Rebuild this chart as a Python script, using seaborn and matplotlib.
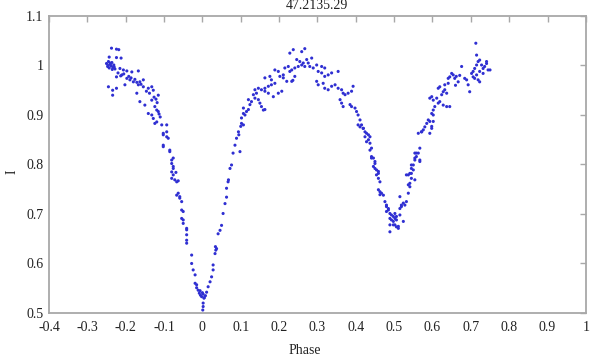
import matplotlib
matplotlib.use("Agg")
import matplotlib.pyplot as plt
import seaborn as sns
import pandas as pd

# light curve of 47.2135.29
# first maximum (descending)
phase_max1 = [-0.237, -0.224, -0.218, -0.243, -0.224, -0.212,
              -0.250, -0.247, -0.245, -0.243, -0.240, -0.238, -0.236, -0.233, -0.231, -0.228,
              -0.246, -0.241, -0.235, -0.230,
              -0.215, -0.206, -0.197, -0.184, -0.167,
              -0.245, -0.234, -0.224, -0.234, -0.202,
              -0.224, -0.210, -0.197, -0.189, -0.180, -0.167, -0.154, -0.141,
              -0.220, -0.213, -0.205, -0.192, -0.186, -0.176, -0.171, -0.160,
              -0.163, -0.154, -0.132, -0.128, -0.115, -0.171, -0.163, -0.150, -0.132,
              -0.146, -0.138, -0.126, -0.121, -0.118,
              -0.124, -0.119, -0.115, -0.132, -0.124, -0.106, -0.093,
              -0.141, -0.128, -0.119, -0.110, -0.113]
flux_max1 = [1.035, 1.033, 1.032, 1.017, 1.016, 1.015,
             1.004, 0.998, 1.008, 0.995, 1.002, 0.999, 1.006, 0.996, 1.001, 0.993,
             1.000, 1.005, 0.992, 0.997,
             0.994, 0.991, 0.989, 0.987, 0.989,
             0.957, 0.950, 0.954, 0.940, 0.961,
             0.977, 0.981, 0.974, 0.971, 0.967, 0.961, 0.957, 0.954,
             0.985, 0.979, 0.983, 0.978, 0.975, 0.972, 0.966, 0.962,
             0.967, 0.971, 0.957, 0.950, 0.940, 0.944, 0.927, 0.920, 0.930,
             0.948, 0.944, 0.936, 0.932, 0.925,
             0.917, 0.910, 0.907, 0.900, 0.883, 0.880, 0.880,
             0.903, 0.893, 0.886, 0.896, 0.902]

# primary eclipse
phase_prim = [-0.102, -0.093, -0.102, -0.089, -0.093, -0.102, -0.102, -0.085, -0.085, -0.080,
              -0.076, -0.080, -0.076, -0.076, -0.069, -0.080, -0.076, -0.080, -0.072, -0.067, -0.063,
              -0.067, -0.063, -0.059, -0.059, -0.054, -0.054, -0.050, -0.054, -0.050, -0.050,
              -0.041, -0.041, -0.041, -0.041, -0.041,
              -0.028, -0.028, -0.024, -0.019, -0.019, -0.015,
              -0.015, -0.011, -0.008, -0.005, -0.002, 0.002, 0.005, 0.008, 0.011, -0.006, 0.000, 0.004,
              0.002, 0.002, 0.001,
              0.015, 0.020, 0.024, 0.028, 0.028, 0.033, 0.035, 0.037, 0.034,
              0.041, 0.046, 0.050, 0.054, 0.059, 0.063, 0.067, 0.063, 0.068,
              0.072, 0.076, 0.080, 0.085, 0.089, 0.094, 0.098, 0.102, 0.107, 0.100, 0.095]
flux_prim = [0.863, 0.866, 0.860, 0.853, 0.856, 0.839, 0.836, 0.829, 0.826, 0.809,
             0.813, 0.802, 0.796, 0.792, 0.784, 0.785, 0.779, 0.772, 0.769, 0.765, 0.767,
             0.738, 0.742, 0.735, 0.732, 0.725, 0.708, 0.705, 0.691, 0.688, 0.681,
             0.671, 0.668, 0.658, 0.647, 0.641,
             0.617, 0.600, 0.587, 0.577, 0.560, 0.557,
             0.551, 0.546, 0.540, 0.536, 0.533, 0.538, 0.531, 0.535, 0.542, 0.545, 0.541, 0.530,
             0.520, 0.513, 0.506,
             0.553, 0.563, 0.573, 0.587, 0.597, 0.620, 0.627, 0.630, 0.634,
             0.660, 0.667, 0.677, 0.701, 0.721, 0.734, 0.765, 0.752, 0.769,
             0.792, 0.799, 0.823, 0.839, 0.853, 0.866, 0.826, 0.883, 0.903, 0.877, 0.860]

# second maximum
phase_max2 = [0.107, 0.102, 0.111, 0.115, 0.120, 0.107, 0.124, 0.128, 0.120, 0.137,
              0.146, 0.150, 0.154, 0.163, 0.133, 0.141, 0.137, 0.146, 0.154, 0.163,
              0.172, 0.180, 0.189, 0.163, 0.185, 0.172, 0.198, 0.207, 0.163, 0.176,
              0.180, 0.189, 0.198, 0.202, 0.211, 0.215, 0.224, 0.228, 0.233, 0.241,
              0.250, 0.259, 0.267, 0.276, 0.280, 0.228, 0.237, 0.259, 0.267, 0.246,
              0.254, 0.263, 0.272, 0.285, 0.289, 0.298, 0.311, 0.319, 0.220, 0.233,
              0.241, 0.211, 0.302, 0.311, 0.319, 0.328, 0.337, 0.354, 0.298, 0.302,
              0.315, 0.319, 0.328, 0.337, 0.346, 0.354, 0.363, 0.367, 0.372, 0.380,
              0.389, 0.393, 0.359, 0.363, 0.367, 0.385, 0.389, 0.398, 0.236, 0.159]
flux_max2 = [0.880, 0.894, 0.900, 0.907, 0.911, 0.914, 0.921, 0.927, 0.931, 0.934,
             0.931, 0.924, 0.917, 0.911, 0.941, 0.944, 0.951, 0.954, 0.951, 0.954,
             0.958, 0.961, 0.964, 0.948, 0.937, 0.944, 0.944, 0.948, 0.975, 0.978,
             0.971, 0.991, 0.988, 0.978, 0.981, 0.995, 0.998, 0.988, 0.991, 0.995,
             0.998, 1.001, 0.998, 1.005, 0.998, 1.025, 1.032, 1.028, 1.034, 1.012,
             1.008, 1.005, 1.012, 1.015, 0.995, 1.001, 0.998, 0.995, 0.968, 0.968,
             0.978, 0.975, 0.988, 0.985, 0.978, 0.981, 0.985, 0.988, 0.968, 0.961,
             0.964, 0.954, 0.951, 0.958, 0.961, 0.954, 0.951, 0.944, 0.941, 0.944,
             0.948, 0.958, 0.931, 0.924, 0.917, 0.921, 0.917, 0.914, 0.970, 0.910]

# secondary eclipse
phase_sec = [0.402, 0.406, 0.411, 0.406, 0.411, 0.420, 0.424, 0.428, 0.433, 0.437,
             0.424, 0.433, 0.437, 0.441, 0.437, 0.441, 0.446, 0.450, 0.446, 0.450,
             0.459, 0.454, 0.459, 0.463, 0.459, 0.463, 0.467, 0.463, 0.476, 0.480,
             0.485, 0.489, 0.493, 0.498, 0.489, 0.502, 0.506, 0.515, 0.493, 0.498,
             0.489, 0.506, 0.511, 0.489, 0.524,
             0.515, 0.519, 0.528, 0.532, 0.537, 0.541, 0.537, 0.545, 0.554, 0.550,
             0.545, 0.554, 0.558, 0.563, 0.567, 0.554, 0.563, 0.572, 0.576, 0.580,
             0.585, 0.593, 0.598, 0.602, 0.602,
             0.472, 0.480, 0.485, 0.480, 0.502, 0.506, 0.498, 0.502, 0.511, 0.519,
             0.524, 0.515, 0.537, 0.541, 0.532, 0.545,
             0.415, 0.419, 0.428, 0.441, 0.450, 0.454, 0.459,
             0.541, 0.545, 0.550, 0.554, 0.558, 0.567, 0.567, 0.571, 0.589, 0.593, 0.598]
flux_sec = [0.907, 0.900, 0.890, 0.880, 0.876, 0.873, 0.866, 0.863, 0.860, 0.856,
            0.856, 0.850, 0.843, 0.833, 0.829, 0.816, 0.813, 0.802, 0.796, 0.792,
            0.786, 0.779, 0.772, 0.765, 0.749, 0.745, 0.742, 0.739, 0.725, 0.715,
            0.708, 0.701, 0.698, 0.695, 0.691, 0.701, 0.695, 0.698, 0.688, 0.678,
            0.678, 0.674, 0.671, 0.664, 0.685,
            0.735, 0.715, 0.718, 0.725, 0.759, 0.755, 0.779, 0.772, 0.769, 0.789,
            0.799, 0.809, 0.816, 0.823, 0.806, 0.823, 0.863, 0.866, 0.870, 0.876,
            0.883, 0.887, 0.873, 0.887, 0.900,
            0.738, 0.718, 0.711, 0.705, 0.691, 0.688, 0.685, 0.678, 0.675, 0.718,
            0.722, 0.711, 0.742, 0.762, 0.779, 0.782,
            0.880, 0.873, 0.846, 0.813, 0.806, 0.789, 0.782,
            0.782, 0.792, 0.799, 0.813, 0.823, 0.833, 0.809, 0.866, 0.890, 0.863, 0.877]

# third maximum
phase_max3 = [0.598, 0.602, 0.606, 0.593, 0.598, 0.602, 0.611, 0.615, 0.619, 0.624,
              0.628, 0.632, 0.637, 0.628, 0.637, 0.645, 0.615, 0.619, 0.632, 0.641,
              0.645, 0.650, 0.654, 0.658, 0.641, 0.667, 0.676, 0.684, 0.689, 0.693,
              0.697, 0.702, 0.706, 0.710, 0.715, 0.719, 0.715, 0.723, 0.728, 0.732,
              0.736, 0.741, 0.745, 0.706, 0.710, 0.719, 0.723, 0.715, 0.723, 0.732,
              0.713, 0.741, 0.750, 0.660, 0.662, 0.671]
flux_max3 = [0.903, 0.910, 0.917, 0.934, 0.937, 0.930, 0.934, 0.924, 0.927, 0.941,
             0.947, 0.951, 0.944, 0.920, 0.917, 0.917, 0.954, 0.957, 0.961, 0.964,
             0.977, 0.984, 0.981, 0.974, 0.974, 0.967, 0.998, 0.974, 0.971, 0.961,
             0.947, 0.984, 0.988, 0.994, 1.001, 1.008, 1.021, 1.011, 1.001, 0.994,
             0.998, 1.004, 0.991, 0.977, 0.974, 0.971, 0.967, 0.981, 0.988, 0.984,
             1.045, 1.008, 0.991, 0.960, 0.978, 0.980]

x_ticks = [-0.4, -0.3, -0.2, -0.1, 0, 0.1, 0.2, 0.3, 0.4, 0.5, 0.6, 0.7, 0.8, 0.9, 1]
x_labels = ["-0.4", "-0.3", "-0.2", "-0.1", "0", "0.1", "0.2", "0.3", "0.4", "0.5",
            "0.6", "0.7", "0.8", "0.9", "1"]
y_ticks = [0.5, 0.6, 0.7, 0.8, 0.9, 1.0, 1.1]
y_labels = ["0.5", "0.6", "0.7", "0.8", "0.9", "1", "1.1"]

df = pd.DataFrame({
    "Phase": phase_max1 + phase_prim + phase_max2 + phase_sec + phase_max3,
    "I": flux_max1 + flux_prim + flux_max2 + flux_sec + flux_max3,
})

sns.set_style("white")
plt.rcParams["font.family"] = ["Liberation Serif", "DejaVu Serif"]

fig, ax = plt.subplots(figsize=(5.93, 3.62), dpi=100)
fig.subplots_adjust(left=0.0826, right=0.988, bottom=0.1354, top=0.9558)

sns.scatterplot(data=df, x="Phase", y="I", ax=ax, s=5, color="#2f2fd2",
                edgecolor="none", linewidth=0)

ax.set_xlim(-0.4, 1)
ax.set_ylim(0.5, 1.1)
ax.set_xticks(x_ticks)
ax.set_xticklabels(x_labels)
ax.set_yticks(y_ticks)
ax.set_yticklabels(y_labels)
ax.tick_params(direction="in", top=True, right=True, length=4, width=1,
               color="#a8a8a8", labelsize=10, labelcolor="#222222")
ax.tick_params(axis="x", pad=6)
ax.tick_params(axis="y", pad=4)
for sp in ax.spines.values():
    sp.set_color("#a8a8a8")
    sp.set_linewidth(1.3)

ax.set_xlabel("Phase", fontsize=10, color="#222222")
ax.set_ylabel("I", fontsize=10, color="#222222")
ax.xaxis.set_label_coords(0.477, -0.105)
ax.yaxis.set_label_coords(-0.056, 0.475)
ax.set_title("47.2135.29", fontsize=10, pad=5, color="#222222")

fig.savefig("out.png", dpi=100)
